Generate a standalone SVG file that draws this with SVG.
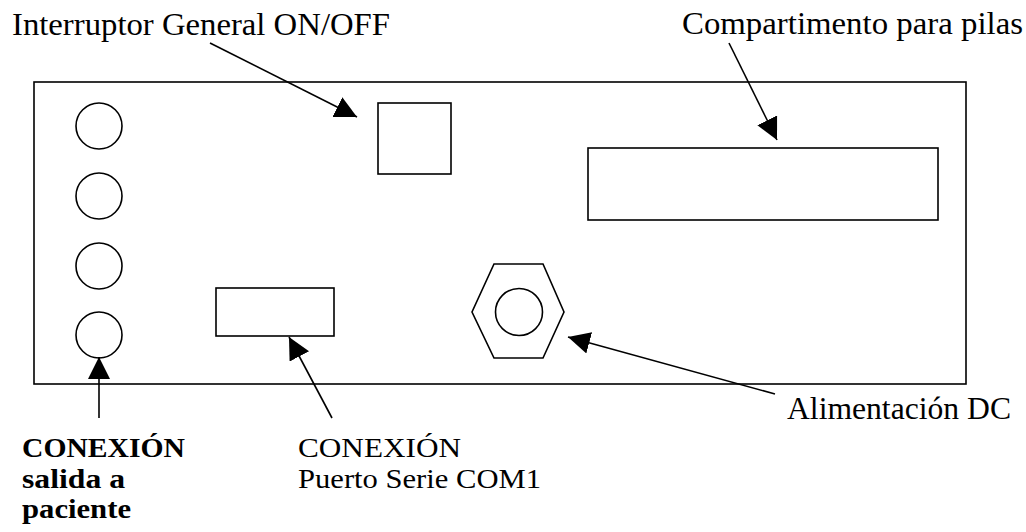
<svg xmlns="http://www.w3.org/2000/svg" width="1026" height="532" viewBox="0 0 1026 532">
<style>
.sh{fill:none;stroke:#000;stroke-width:1.6}
.ln{fill:none;stroke:#000;stroke-width:1.6;marker-end:url(#ah)}
.t{font-family:"Liberation Serif","Times New Roman",serif;font-size:31px;fill:#000}
.m{font-size:27px}
.b{font-weight:bold}
</style>
<defs>
<marker id="ah" markerUnits="userSpaceOnUse" markerWidth="24" markerHeight="24" refX="22" refY="11" orient="auto">
<path d="M0,0 L22,11 L0,22 z" fill="#000"/>
</marker>
</defs>
<rect width="1026" height="532" fill="#fff"/>
<g id="panel">
<rect class="sh" x="34" y="82" width="932" height="302"/>
</g>
<g id="connectors-patient">
<circle class="sh" cx="99" cy="126" r="23"/>
<circle class="sh" cx="99" cy="196" r="23"/>
<circle class="sh" cx="99" cy="266" r="23"/>
<circle class="sh" cx="99" cy="335" r="23"/>
</g>
<g id="switch">
<rect class="sh" x="378" y="103" width="73" height="71"/>
</g>
<g id="battery">
<rect class="sh" x="588" y="148" width="350" height="72"/>
</g>
<g id="serial">
<rect class="sh" x="216" y="288" width="118" height="48"/>
</g>
<g id="dc">
<polygon class="sh" points="494,264 543,264 564,312 543,358 494,358 472,312"/>
<circle class="sh" cx="519" cy="312" r="23.5"/>
</g>
<g id="connectors">
<line class="ln" x1="210" y1="43" x2="357" y2="117"/>
<line class="ln" x1="729" y1="43" x2="777" y2="140"/>
<line class="ln" x1="99" y1="418" x2="99" y2="357"/>
<line class="ln" x1="332" y1="418" x2="289" y2="337"/>
<line class="ln" x1="775" y1="394" x2="568" y2="337"/>
</g>
<g id="labels">
<text class="t" x="12" y="35" textLength="378" lengthAdjust="spacingAndGlyphs">Interruptor General ON/OFF</text>
<text class="t" x="682" y="34" textLength="341" lengthAdjust="spacingAndGlyphs">Compartimento para pilas</text>
<text class="t" x="787" y="419" textLength="224" lengthAdjust="spacingAndGlyphs">Alimentación DC</text>
<text class="t m b" x="22" y="457" textLength="163" lengthAdjust="spacingAndGlyphs">CONEXIÓN</text>
<text class="t m b" x="22" y="488" textLength="103" lengthAdjust="spacingAndGlyphs">salida a</text>
<text class="t m b" x="22" y="518" textLength="109" lengthAdjust="spacingAndGlyphs">paciente</text>
<text class="t m" x="298" y="457" textLength="163" lengthAdjust="spacingAndGlyphs">CONEXIÓN</text>
<text class="t m" x="298" y="488" textLength="243" lengthAdjust="spacingAndGlyphs">Puerto Serie COM1</text>
</g>
</svg>
